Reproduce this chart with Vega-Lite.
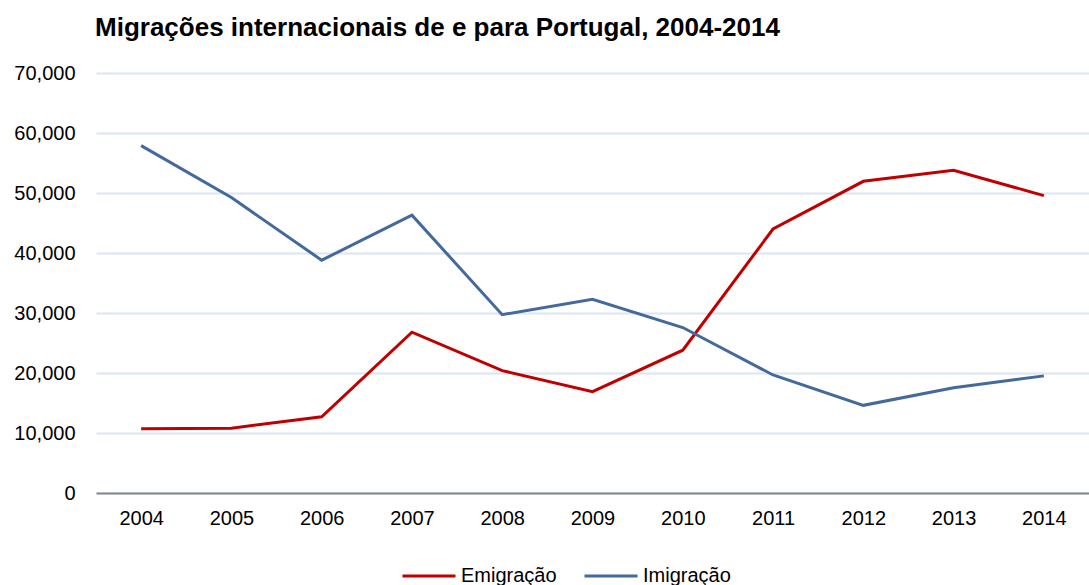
{
  "$schema": "https://vega.github.io/schema/vega-lite/v6.json",
  "autosize": "none",
  "width": 993,
  "height": 420,
  "padding": {"left": 96, "top": 73, "right": 0, "bottom": 92},
  "background": "white",
  "config": {
    "font": "Liberation Sans",
    "view": {"stroke": null}
  },
  "title": {
    "text": "Migrações internacionais de e para Portugal, 2004-2014",
    "anchor": "start",
    "frame": "group",
    "fontSize": 26,
    "fontWeight": "bold",
    "color": "#000000",
    "font": "Liberation Sans",
    "offset": 22,
    "dx": -1
  },
  "data": {
    "values": [
      {"ano": "2004", "serie": "Emigração", "valor": 10700},
      {"ano": "2005", "serie": "Emigração", "valor": 10800},
      {"ano": "2006", "serie": "Emigração", "valor": 12700},
      {"ano": "2007", "serie": "Emigração", "valor": 26800},
      {"ano": "2008", "serie": "Emigração", "valor": 20400},
      {"ano": "2009", "serie": "Emigração", "valor": 16900},
      {"ano": "2010", "serie": "Emigração", "valor": 23800},
      {"ano": "2011", "serie": "Emigração", "valor": 44000},
      {"ano": "2012", "serie": "Emigração", "valor": 51950},
      {"ano": "2013", "serie": "Emigração", "valor": 53790},
      {"ano": "2014", "serie": "Emigração", "valor": 49570},
      {"ano": "2004", "serie": "Imigração", "valor": 57900},
      {"ano": "2005", "serie": "Imigração", "valor": 49240},
      {"ano": "2006", "serie": "Imigração", "valor": 38800},
      {"ano": "2007", "serie": "Imigração", "valor": 46300},
      {"ano": "2008", "serie": "Imigração", "valor": 29720},
      {"ano": "2009", "serie": "Imigração", "valor": 32300},
      {"ano": "2010", "serie": "Imigração", "valor": 27580},
      {"ano": "2011", "serie": "Imigração", "valor": 19670},
      {"ano": "2012", "serie": "Imigração", "valor": 14610},
      {"ano": "2013", "serie": "Imigração", "valor": 17550},
      {"ano": "2014", "serie": "Imigração", "valor": 19520}
    ]
  },
  "mark": {"type": "line", "strokeWidth": 3},
  "encoding": {
    "x": {
      "field": "ano",
      "type": "ordinal",
      "scale": {"type": "point", "padding": 0.5},
      "axis": {
        "title": null,
        "labelAngle": 0,
        "labelFontSize": 20,
        "labelColor": "#000000",
        "labelPadding": 15,
        "ticks": false,
        "domainColor": "#868686",
        "domainWidth": 2,
        "grid": false
      }
    },
    "y": {
      "field": "valor",
      "type": "quantitative",
      "scale": {"domain": [0, 70000], "nice": false},
      "axis": {
        "title": null,
        "values": [0, 10000, 20000, 30000, 40000, 50000, 60000, 70000],
        "format": ",d",
        "labelFontSize": 20,
        "labelColor": "#000000",
        "labelPadding": 21,
        "ticks": false,
        "domain": false,
        "gridColor": "#dce6f2",
        "gridWidth": 2
      }
    },
    "color": {
      "field": "serie",
      "type": "nominal",
      "scale": {"domain": ["Emigração", "Imigração"], "range": ["#c00000", "#44699b"]},
      "legend": {
        "title": null,
        "orient": "none",
        "direction": "horizontal",
        "legendX": 305,
        "legendY": 475,
        "symbolType": "stroke",
        "symbolSize": 2809,
        "symbolStrokeWidth": 3,
        "labelFontSize": 20,
        "labelColor": "#000000",
        "labelOffset": 4,
        "columnPadding": 21
      }
    }
  }
}
